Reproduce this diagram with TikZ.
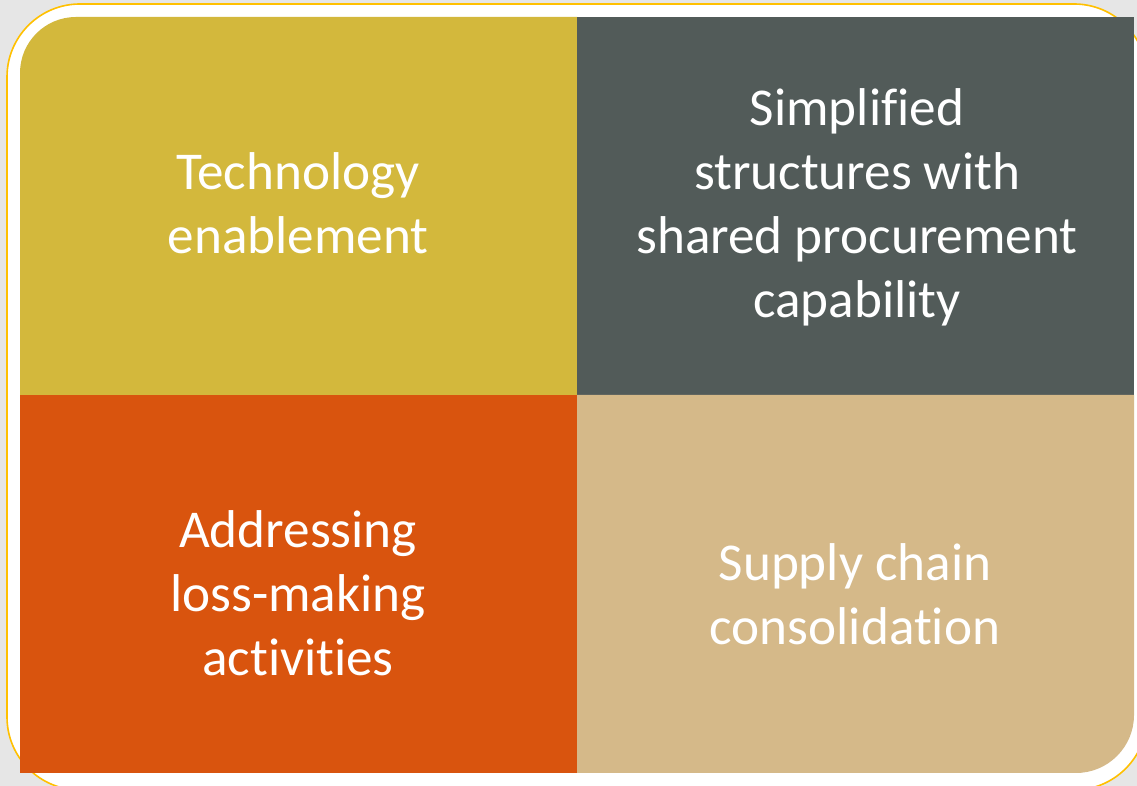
\documentclass[tikz,border=0pt]{standalone}
\usepackage{fontspec}
\setmainfont[Ligatures=NoCommon]{Carlito}
\begin{document}
\begin{tikzpicture}[x=1pt,y=1pt,
  celltext/.style={text=white,align=center,font=\fontsize{53.2}{64}\selectfont,inner sep=0pt}]
\definecolor{bggray}{HTML}{E6E6E6}
\definecolor{frameyellow}{HTML}{FFC000}
\definecolor{cellgold}{HTML}{D3B83C}
\definecolor{cellslate}{HTML}{525B59}
\definecolor{cellorange}{HTML}{D9540E}
\definecolor{celltan}{HTML}{D5B989}
\useasboundingbox (0,0) rectangle (1137,786);
\begin{scope}
\clip (0,0) rectangle (1137,786);
\fill[bggray] (0,0) rectangle (1137,786);
% white frame with yellow rim
\filldraw[fill=white,draw=frameyellow,line width=1.6pt,rounded corners=73] (7,-4) rectangle (1147,782);
% four quadrants
\fill[cellgold] (20,391) -- (20,713) arc[start angle=180,end angle=90,radius=56] -- (577,769) -- (577,391) -- cycle;
\fill[cellslate] (577,391) rectangle (1134,769);
\fill[cellorange] (20,13) rectangle (577,391);
\fill[celltan] (577,13) -- (1076,13) arc[start angle=270,end angle=360,radius=58] -- (1134,391) -- (577,391) -- cycle;
\end{scope}
\node[celltext] (tech) at (298,583) {Technology\\enablement};
\node[celltext] (simp) at (857,579) {Simplified\\structures with\\shared procurement\\capability};
\node[celltext] (loss) at (298,193) {Addressing\\loss-making\\activities};
\node[celltext] (supp) at (855,192) {Supply chain\\consolidation};
\end{tikzpicture}
\end{document}
